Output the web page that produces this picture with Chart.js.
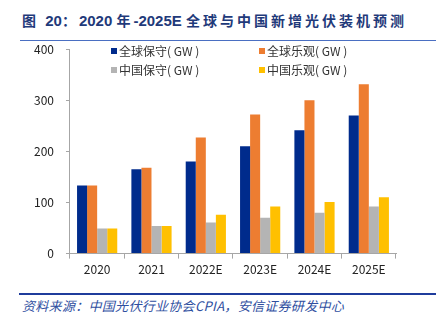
<!DOCTYPE html>
<html>
<head>
<meta charset="utf-8">
<script src="https://cdn.jsdelivr.net/npm/chart.js@4"></script>
<style>
  html, body { margin: 0; padding: 0; background: #fff; }
  body { width: 444px; height: 322px; position: relative; overflow: hidden; font-family: "Noto Sans CJK SC", "Noto Sans", sans-serif; }
  #title { position: absolute; left: 22px; top: 9px; color: #1f3a7a; white-space: nowrap; font-weight: bold; line-height: 20px; }
  #title .cj { font-size: 14px; letter-spacing: 3px; }
  #title .num { font-family: "Liberation Sans", Arial, sans-serif; font-size: 15px; }
  #rule-top { position: absolute; left: 20px; top: 40px; width: 416px; height: 1px; background: #4a6fc2; }
  #rule-bot { position: absolute; left: 19px; top: 293px; width: 417px; height: 2px; background: #1f3c9c; }
  #source { position: absolute; left: 22px; top: 296px; font-size: 13px; font-style: italic; color: #2f4f9f; white-space: nowrap; letter-spacing: 0.3px; }
  #wrap { position: absolute; left: 0; top: 0; width: 444px; height: 281px; }
</style>
</head>
<body>
<div id="title"><span class="cj">图 </span><span class="num">20</span><span class="cj">：</span><span class="num">2020 </span><span class="cj">年</span><span class="num">-2025E </span><span class="cj">全球与中国新增光伏装机预测</span></div>
<div id="rule-top"></div>
<div id="wrap"><canvas id="chart"></canvas></div>
<div id="rule-bot"></div>
<div id="source">资料来源：中国光伏行业协会CPIA，安信证券研发中心</div>

<script>
/* ── DATA ── */
const years = ['2020', '2021', '2022E', '2023E', '2024E', '2025E'];
const globalLow  = [133, 165, 180, 210, 241, 270];
const globalHigh = [133, 168, 227, 272, 300, 331];
const chinaLow   = [49, 54, 61, 70, 80, 92];
const chinaHigh  = [49, 54, 76, 92, 101, 110];
const yTicks = [0, 100, 200, 300, 400];

const colors = ['#002b8c', '#ed7d31', '#b4b4b4', '#ffc000'];
const labels = ['全球保守( GW )', '全球乐观( GW )', '中国保守( GW )', '中国乐观( GW )'];
const series = [globalLow, globalHigh, chinaLow, chinaHigh];

/* ── LEGEND (2 x 2 grid inside plot) ── */
const gridLegend = {
  id: 'gridLegend',
  afterDraw(chart) {
    const ctx = chart.ctx;
    const xs = [111, 259];
    const ys = [51, 70];
    ctx.save();
    ctx.font = '12px "Noto Sans CJK SC", sans-serif';
    ctx.textBaseline = 'middle';
    chart.data.datasets.forEach((ds, i) => {
      const x = xs[i % 2], y = ys[Math.floor(i / 2)];
      ctx.fillStyle = ds.backgroundColor;
      ctx.fillRect(x, y - 3, 6, 6);
      ctx.fillStyle = '#333';
      ctx.fillText(ds.label, x + 8, y);
    });
    ctx.restore();
  }
};

new Chart(document.getElementById('chart'), {
  type: 'bar',
  data: {
    labels: years,
    datasets: series.map((d, i) => ({
      label: labels[i],
      data: d,
      backgroundColor: colors[i],
      categoryPercentage: 0.74,
      barPercentage: 1.0
    }))
  },
  options: {
    responsive: true,
    maintainAspectRatio: false,
    animation: false,
    layout: { padding: { top: 49, right: 48, left: 22, bottom: 0 } },
    plugins: { legend: { display: false }, tooltip: { enabled: false } },
    scales: {
      x: {
        grid: { drawOnChartArea: false, drawTicks: true, tickLength: 5, color: '#a6a6a6', offset: true },
        border: { color: '#a6a6a6', width: 1 },
        ticks: { color: '#222', font: { size: 12, family: '"Noto Sans CJK SC", sans-serif' }, padding: 4 }
      },
      y: {
        min: 0, max: 400,
        afterBuildTicks: axis => { axis.ticks = yTicks.map(v => ({ value: v })); },
        grid: { drawOnChartArea: false, drawTicks: true, tickLength: 4, color: '#a6a6a6' },
        border: { color: '#a6a6a6', width: 1 },
        ticks: { color: '#222', font: { size: 12, family: '"Noto Sans CJK SC", sans-serif' }, padding: 12 }
      }
    }
  },
  plugins: [gridLegend]
});
</script>
</body>
</html>
